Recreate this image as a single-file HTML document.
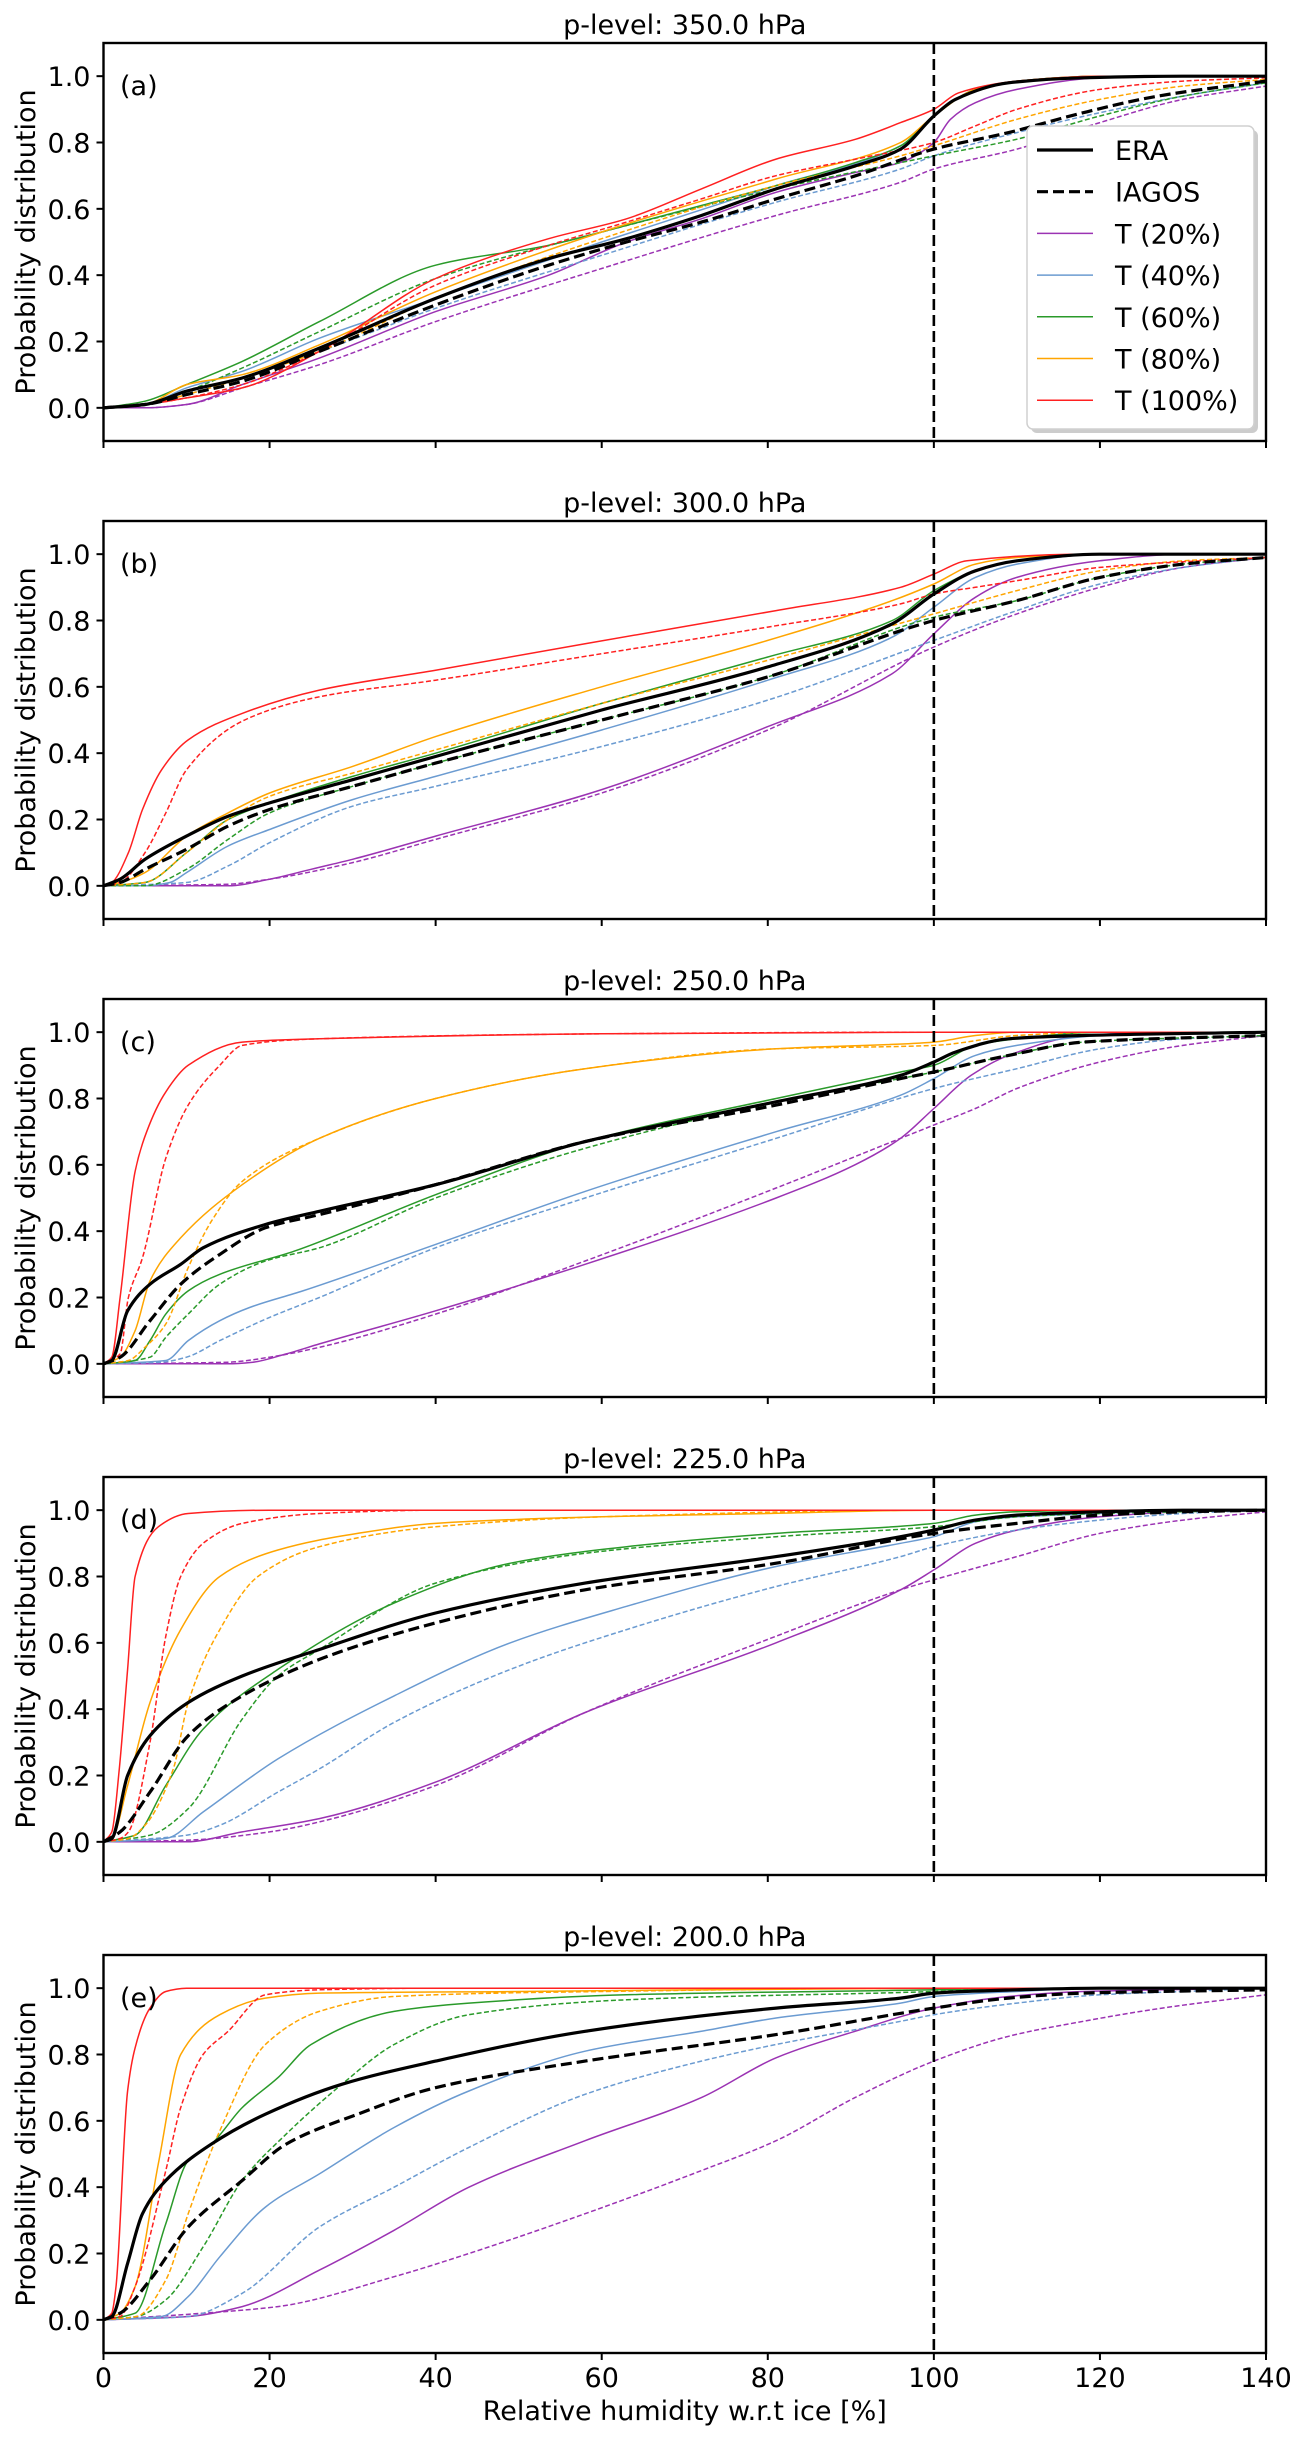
<!DOCTYPE html>
<html><head><meta charset="utf-8"><style>
html,body{margin:0;padding:0;background:#fff;}
svg{display:block;font-family:"DejaVu Sans","Liberation Sans",sans-serif;}
</style></head>
<body>
<svg id="fig" width="1305" height="2440" viewBox="0 0 1305 2440" xmlns="http://www.w3.org/2000/svg">
<rect width="1305" height="2440" fill="#fff"/>
</svg>
<script>
// ---------- data ----------
const panelTitles = ["p-level: 350.0 hPa","p-level: 300.0 hPa","p-level: 250.0 hPa","p-level: 225.0 hPa","p-level: 200.0 hPa"];
const panelLetters = ["(a)","(b)","(c)","(d)","(e)"];
const xTicks = [0,20,40,60,80,100,120,140];
const yTicks = [0.0,0.2,0.4,0.6,0.8,1.0];
const seriesNames = ["T20","T40","T60","T80","T100","ERA"];
const legendLabels = ["ERA","IAGOS","T (20%)","T (40%)","T (60%)","T (80%)","T (100%)"];

// panel (a) 350 hPa
const A_ERA = [[0,0],[5,0.01],[10,0.05],[16.7,0.09],[26,0.18],[40,0.33],[53.6,0.45],[63,0.51],[72,0.58],[81,0.66],[90.6,0.73],[96,0.78],[100,0.88],[102.6,0.93],[109,0.98],[118,0.995],[130,1]];
const A_IAG = [[0,0],[5,0.01],[10,0.04],[16.7,0.08],[26,0.17],[40,0.31],[53.6,0.43],[63,0.5],[72,0.56],[81,0.63],[90.6,0.7],[100,0.78],[109,0.83],[118,0.89],[127,0.94],[140,0.985]];
const A_T20 = [[0,0],[5,0],[10,0.01],[16.7,0.07],[26,0.15],[40,0.29],[53.6,0.4],[63,0.5],[72,0.57],[81,0.65],[90.6,0.71],[96,0.74],[100,0.8],[102,0.87],[105,0.92],[110,0.96],[120,0.995],[130,1]];
const A_T20d = [[0,0],[5,0],[10,0.01],[16.7,0.06],[26,0.13],[40,0.26],[60,0.42],[81,0.58],[96,0.68],[100,0.72],[110,0.78],[120,0.86],[130,0.93],[140,0.97]];
const A_T40 = [[0,0],[5,0.01],[10,0.06],[16.7,0.11],[26,0.21],[40,0.33],[60,0.5],[81,0.67],[96,0.79],[100,0.88],[105,0.96],[110,0.985],[120,1]];
const A_T40d = [[0,0],[5,0.01],[10,0.04],[26,0.17],[40,0.3],[60,0.46],[81,0.62],[96,0.72],[100,0.76],[110,0.83],[120,0.89],[130,0.94],[140,0.98]];
const A_T60 = [[0,0],[5,0.02],[10,0.07],[16.7,0.14],[26,0.26],[40,0.43],[53.6,0.49],[63,0.55],[72,0.61],[81,0.67],[90.6,0.74],[96,0.79],[100,0.88],[105,0.96],[110,0.985],[120,1]];
const A_T60d = [[0,0],[5,0.01],[10,0.05],[16.7,0.12],[26,0.23],[40,0.39],[60,0.53],[81,0.66],[100,0.76],[110,0.81],[120,0.88],[130,0.94],[140,0.98]];
const A_T80 = [[0,0],[5,0.01],[10,0.07],[16.7,0.1],[26,0.19],[40,0.35],[60,0.53],[81,0.69],[96,0.8],[100,0.88],[105,0.96],[110,0.985],[120,1]];
const A_T80d = [[0,0],[5,0.01],[10,0.04],[26,0.17],[40,0.33],[60,0.51],[81,0.67],[96,0.76],[100,0.79],[110,0.87],[120,0.93],[130,0.97],[140,0.99]];
const A_T100 = [[0,0],[5,0.01],[10,0.03],[16.7,0.06],[26,0.17],[40,0.39],[53.6,0.51],[63,0.57],[72,0.66],[81,0.75],[90.6,0.81],[96,0.86],[100,0.9],[103,0.95],[110,0.985],[120,1]];
const A_T100d = [[0,0],[5,0.01],[10,0.03],[16.7,0.07],[26,0.17],[40,0.37],[53.6,0.49],[63,0.56],[72,0.63],[81,0.7],[90.6,0.75],[100,0.8],[105,0.85],[110,0.9],[120,0.96],[130,0.985],[140,0.995]];

// panel (b) 300 hPa
const B_ERA = [[0,0],[2,0.02],[5,0.08],[10,0.15],[15,0.21],[20,0.25],[30,0.32],[40,0.39],[60,0.53],[80,0.66],[95,0.79],[100,0.88],[105,0.95],[110,0.98],[120,1]];
const B_IAG = [[0,0],[2,0.01],[5,0.05],[10,0.11],[15,0.18],[20,0.23],[30,0.3],[40,0.37],[60,0.5],[80,0.63],[100,0.8],[110,0.86],[120,0.93],[130,0.97],[140,0.99]];
const B_T20 = [[0,0],[15,0],[20,0.02],[25,0.05],[30,0.08],[40,0.15],[60,0.29],[80,0.48],[95,0.64],[100,0.76],[105,0.87],[110,0.93],[120,0.98],[130,1]];
const B_T20d = [[0,0],[15,0.005],[20,0.02],[30,0.07],[40,0.14],[60,0.28],[80,0.47],[100,0.72],[110,0.82],[120,0.9],[130,0.96],[140,0.99]];
const B_T40 = [[0,0],[5,0],[8,0.01],[10,0.04],[15,0.12],[20,0.17],[30,0.26],[40,0.33],[60,0.47],[80,0.62],[95,0.75],[100,0.84],[105,0.93],[110,0.97],[120,1]];
const B_T40d = [[0,0],[10,0.01],[15,0.06],[20,0.13],[30,0.24],[40,0.3],[60,0.42],[80,0.56],[100,0.74],[110,0.83],[120,0.91],[130,0.96],[140,0.99]];
const B_T60 = [[0,0],[5,0.01],[10,0.1],[15,0.2],[20,0.25],[30,0.33],[40,0.4],[60,0.55],[80,0.69],[95,0.8],[100,0.89],[105,0.95],[110,0.98],[120,1]];
const B_T60d = [[0,0],[5,0],[10,0.05],[15,0.14],[20,0.22],[30,0.3],[40,0.37],[60,0.5],[80,0.63],[100,0.81],[110,0.86],[120,0.93],[130,0.97],[140,0.99]];
const B_T80 = [[0,0],[2,0.01],[5,0.04],[10,0.15],[15,0.22],[20,0.28],[30,0.36],[40,0.45],[60,0.6],[80,0.74],[95,0.86],[100,0.91],[105,0.97],[110,0.99],[120,1]];
const B_T80d = [[0,0],[5,0.01],[10,0.1],[15,0.2],[20,0.27],[30,0.34],[40,0.41],[60,0.55],[80,0.68],[100,0.82],[110,0.89],[120,0.95],[130,0.98],[140,0.99]];
const B_T100 = [[0,0],[1,0.01],[3,0.1],[4.7,0.23],[7,0.35],[10.2,0.44],[16.7,0.52],[26,0.59],[40,0.65],[58,0.73],[81,0.83],[96,0.9],[100,0.94],[104,0.98],[118,1]];
const B_T100d = [[0,0],[2,0.01],[5,0.1],[7.5,0.22],[10,0.35],[17,0.5],[26,0.57],[40,0.62],[60,0.7],[80,0.78],[96,0.85],[100,0.88],[105,0.9],[110,0.92],[120,0.96],[140,0.99]];

// panel (c) 250 hPa
const C_ERA = [[0,0],[1,0.01],[2.9,0.16],[5.6,0.24],[9.3,0.3],[12,0.35],[19.5,0.42],[26,0.46],[40,0.54],[58,0.67],[81,0.79],[96,0.87],[100,0.91],[102.6,0.94],[109,0.98],[118,0.99],[140,1]];
const C_IAG = [[0,0],[2,0.02],[5.6,0.13],[9.3,0.24],[14,0.33],[19.5,0.41],[26,0.45],[40,0.54],[58,0.67],[81,0.78],[96,0.86],[100,0.88],[109,0.93],[118,0.97],[140,0.99]];
const C_T20 = [[0,0],[15,0],[18,0.005],[22,0.03],[26,0.06],[40,0.16],[58,0.3],[81,0.5],[90.5,0.6],[96,0.68],[100,0.77],[104.5,0.87],[109,0.93],[118,0.99],[130,1]];
const C_T20d = [[0,0],[15,0.005],[20,0.02],[26,0.05],[40,0.15],[58,0.31],[81,0.53],[96,0.68],[100,0.72],[105,0.77],[110,0.83],[120,0.91],[130,0.96],[140,0.99]];
const C_T40 = [[0,0],[7.5,0.01],[10.2,0.07],[14,0.13],[17.6,0.17],[24,0.22],[40,0.36],[58,0.52],[81,0.7],[96,0.81],[100,0.86],[105,0.93],[110,0.96],[120,0.99],[130,1]];
const C_T40d = [[0,0],[7,0.005],[10,0.02],[14,0.07],[20,0.14],[26,0.2],[40,0.35],[58,0.5],[81,0.68],[100,0.83],[110,0.89],[120,0.95],[130,0.98],[140,0.99]];
const C_T60 = [[0,0],[3.8,0.01],[5.6,0.07],[7.5,0.15],[10.2,0.22],[14,0.27],[23,0.34],[40,0.51],[58,0.67],[81,0.8],[96,0.88],[100,0.9],[105,0.96],[110,0.98],[120,1]];
const C_T60d = [[0,0],[5.6,0.02],[7.5,0.08],[10.2,0.15],[14,0.24],[19.5,0.31],[26,0.35],[40,0.5],[58,0.65],[81,0.79],[100,0.88],[109,0.93],[118,0.97],[140,0.99]];
const C_T80 = [[0,0],[2,0.02],[3.8,0.1],[5.6,0.25],[9.3,0.38],[16.7,0.54],[26,0.68],[40,0.8],[58,0.89],[81,0.95],[100,0.97],[105,0.99],[110,1]];
const C_T80d = [[0,0],[3,0.01],[5,0.05],[7.5,0.12],[10.2,0.29],[13,0.43],[16.7,0.55],[26,0.68],[40,0.8],[58,0.89],[81,0.95],[100,0.96],[110,0.99],[120,1]];
const C_T100 = [[0,0],[1,0.02],[2,0.2],[3.8,0.58],[5.2,0.7],[7.5,0.82],[10.2,0.9],[16.7,0.97],[26,0.98],[60,0.995],[100,1]];
const C_T100d = [[0,0],[2,0.03],[3,0.2],[4.7,0.32],[7.5,0.62],[10.2,0.78],[14,0.9],[16.7,0.96],[26,0.98],[60,0.995],[100,1]];

// panel (d) 225 hPa
const D_ERA = [[0,0],[1,0.01],[2.9,0.2],[5.6,0.32],[10.2,0.42],[16.7,0.5],[26,0.58],[40,0.69],[58,0.78],[81,0.86],[96,0.92],[100,0.94],[105,0.97],[110,0.985],[120,0.995],[130,1]];
const D_IAG = [[0,0],[2,0.03],[5.6,0.15],[10.2,0.32],[16.7,0.44],[26,0.55],[40,0.66],[58,0.76],[81,0.84],[100,0.93],[110,0.96],[120,0.985],[130,0.995],[140,1]];
const D_T20 = [[0,0],[10,0],[16.7,0.03],[26,0.07],[40,0.18],[58,0.39],[81,0.6],[96,0.76],[100,0.82],[105,0.9],[110,0.94],[120,0.98],[130,0.995],[140,1]];
const D_T20d = [[0,0],[10,0.005],[20,0.03],[26,0.06],[40,0.17],[58,0.39],[81,0.62],[96,0.76],[100,0.79],[110,0.86],[120,0.93],[130,0.97],[140,0.995]];
const D_T40 = [[0,0],[7.5,0.01],[12,0.09],[21,0.25],[35,0.44],[49,0.6],[63,0.71],[81,0.83],[96,0.9],[100,0.92],[105,0.965],[110,0.98],[120,0.99],[130,1]];
const D_T40d = [[0,0],[10,0.02],[14,0.05],[21,0.15],[26,0.22],[35,0.36],[49,0.52],[63,0.64],[81,0.77],[96,0.86],[100,0.89],[110,0.94],[120,0.97],[130,0.99],[140,1]];
const D_T60 = [[0,0],[3.8,0.02],[7.5,0.17],[12,0.34],[21,0.52],[35,0.72],[49,0.84],[63,0.89],[81,0.93],[100,0.96],[105,0.985],[110,0.995],[120,1]];
const D_T60d = [[0,0],[5.6,0.02],[10.2,0.1],[16.7,0.37],[21,0.5],[26,0.58],[40,0.78],[58,0.87],[81,0.92],[100,0.95],[110,0.98],[120,0.99],[140,1]];
const D_T80 = [[0,0],[1,0.01],[2.9,0.17],[5.6,0.42],[9.3,0.64],[14,0.8],[21,0.88],[30.6,0.93],[40,0.96],[60,0.98],[80,0.99],[100,1]];
const D_T80d = [[0,0],[3,0.01],[5,0.05],[8.4,0.22],[10.2,0.42],[14,0.64],[18.6,0.8],[26,0.89],[40,0.95],[60,0.98],[100,1]];
const D_T100 = [[0,0],[1,0.03],[1.9,0.22],[2.9,0.52],[3.8,0.8],[6.6,0.95],[10.2,0.99],[20,1]];
const D_T100d = [[0,0],[2,0.01],[3,0.03],[5.6,0.3],[7.5,0.62],[9.3,0.8],[12,0.9],[16.7,0.96],[26,0.99],[40,1]];

// panel (e) 200 hPa
const E_ERA = [[0,0],[1,0.01],[2.9,0.17],[4.7,0.32],[7.5,0.42],[13,0.53],[19.5,0.62],[28.7,0.71],[40,0.78],[58,0.87],[81,0.94],[96,0.97],[100,0.985],[110,0.995],[120,1]];
const E_IAG = [[0,0],[2,0.02],[5.6,0.12],[10.2,0.28],[16.7,0.42],[22,0.53],[30.6,0.62],[40,0.7],[58,0.78],[81,0.86],[100,0.94],[109,0.97],[118,0.985],[140,0.995]];
const E_T20 = [[0,0],[10.2,0.01],[16.7,0.04],[26,0.15],[35,0.27],[44,0.4],[58,0.54],[72,0.67],[81,0.79],[90.5,0.87],[100,0.94],[109,0.975],[118,0.99],[140,1]];
const E_T20d = [[0,0],[12,0.02],[21,0.04],[35,0.13],[44,0.2],[58,0.32],[72,0.45],[81,0.54],[90.5,0.67],[100,0.78],[109,0.855],[118,0.9],[127.5,0.94],[140,0.98]];
const E_T40 = [[0,0],[7,0.01],[10.2,0.07],[14,0.19],[19.5,0.34],[26,0.44],[35,0.58],[44,0.69],[58,0.81],[72,0.87],[81,0.91],[96,0.955],[100,0.975],[110,0.99],[120,1]];
const E_T40d = [[0,0],[10.2,0.01],[16.7,0.08],[26,0.28],[35,0.4],[44,0.52],[58,0.68],[72,0.78],[81,0.83],[96,0.9],[100,0.92],[110,0.955],[120,0.98],[130,0.99],[140,1]];
const E_T60 = [[0,0],[3.8,0.02],[7.5,0.29],[10.2,0.48],[13,0.53],[16.7,0.64],[21,0.73],[25,0.83],[35,0.93],[44,0.955],[63,0.98],[100,0.995],[110,1]];
const E_T60d = [[0,0],[4,0.01],[7.5,0.06],[12,0.22],[16.7,0.42],[22,0.56],[28.7,0.71],[35,0.83],[44,0.92],[63,0.965],[100,0.99],[110,1]];
const E_T80 = [[0,0],[2,0.02],[3.8,0.1],[6.6,0.47],[9.3,0.8],[14,0.92],[19.5,0.97],[26,0.985],[50,0.99],[100,1]];
const E_T80d = [[0,0],[4,0.01],[7.5,0.12],[10.2,0.32],[14,0.57],[19.5,0.83],[26,0.93],[35,0.975],[60,0.99],[100,1]];
const E_T100 = [[0,0],[1,0.02],[1.5,0.1],[2.9,0.69],[3.8,0.82],[5.6,0.94],[7.5,0.99],[10,1]];
const E_T100d = [[0,0],[2,0.01],[3.8,0.1],[7.5,0.45],[9.3,0.64],[12,0.8],[15,0.87],[19.5,0.98],[26,0.995],[40,1]];

const panelData = [
  [A_T20,A_T20d,A_T40,A_T40d,A_T60,A_T60d,A_T80,A_T80d,A_T100,A_T100d,A_ERA,A_IAG],
  [B_T20,B_T20d,B_T40,B_T40d,B_T60,B_T60d,B_T80,B_T80d,B_T100,B_T100d,B_ERA,B_IAG],
  [C_T20,C_T20d,C_T40,C_T40d,C_T60,C_T60d,C_T80,C_T80d,C_T100,C_T100d,C_ERA,C_IAG],
  [D_T20,D_T20d,D_T40,D_T40d,D_T60,D_T60d,D_T80,D_T80d,D_T100,D_T100d,D_ERA,D_IAG],
  [E_T20,E_T20d,E_T40,E_T40d,E_T60,E_T60d,E_T80,E_T80d,E_T100,E_T100d,E_ERA,E_IAG]
];

// ---------- drawing ----------
const NS = "http://www.w3.org/2000/svg";
const svg = document.getElementById("fig");
const colors = ["#9b33b3","#6b9bd1","#2a9a2a","#ffa500","#ff2020","#000000"];
const styleNames = ["t20","t40","t60","t80","t100","era"];
const AX_L = 103.5, AX_R = 1266, PH = 398;
const tops = [43,521,999,1477,1955];
const X_MIN = 0, X_MAX = 140, Y_MIN = -0.1, Y_MAX = 1.1;
function xs(v){ return AX_L + (v - X_MIN) / (X_MAX - X_MIN) * (AX_R - AX_L); }
function ys(v, top){ return top + (Y_MAX - v) / (Y_MAX - Y_MIN) * PH; }
function mk(tag, attrs, parent){
  const e = document.createElementNS(NS, tag);
  for (const k in attrs) e.setAttribute(k, attrs[k]);
  (parent || svg).appendChild(e);
  return e;
}
function monoPath(P){
  const n = P.length;
  if (n < 2) return "";
  const dx = [], dy = [], m = [];
  for (let i = 0; i < n - 1; i++){ dx.push(P[i+1][0]-P[i][0]); dy.push(P[i+1][1]-P[i][1]); m.push(dx[i] ? dy[i]/dx[i] : 0); }
  const t = [m[0]];
  for (let i = 1; i < n - 1; i++){
    if (m[i-1]*m[i] <= 0) t.push(0);
    else { const w1 = 2*dx[i]+dx[i-1], w2 = dx[i]+2*dx[i-1]; t.push((w1+w2)/(w1/m[i-1]+w2/m[i])); }
  }
  t.push(m[n-2]);
  let d = "M" + P[0][0].toFixed(1) + "," + P[0][1].toFixed(1);
  for (let i = 0; i < n - 1; i++){
    const h = dx[i]/3;
    d += " C" + (P[i][0]+h).toFixed(1) + "," + (P[i][1]+t[i]*h).toFixed(1) + " " +
         (P[i+1][0]-h).toFixed(1) + "," + (P[i+1][1]-t[i+1]*h).toFixed(1) + " " +
         P[i+1][0].toFixed(1) + "," + P[i+1][1].toFixed(1);
  }
  return d;
}
const FONT = 27;

for (let p = 0; p < 5; p++) {
  const top = tops[p], bot = top + PH;
  const g = mk("g", {});
  
  

  const cp = mk("clipPath", {id: "clip" + p}, g);
  mk("rect", {x: AX_L, y: top, width: AX_R - AX_L, height: PH}, cp);

  const t = mk("text", {x: (AX_L + AX_R) / 2, y: top - 9, "text-anchor": "middle", "font-size": FONT}, g);
  t.textContent = panelTitles[p];
  
  

  const sg = mk("g", {"clip-path": "url(#clip" + p + ")"}, g);
  panelData[p].forEach((pts, i) => {
    const si = Math.floor(i / 2), dashed = i % 2 === 1, isRef = si === 5;
    const full = pts.slice();
    if (full[full.length-1][0] < X_MAX) full.push([X_MAX, full[full.length-1][1]]);
    const P = full.map(q => [xs(q[0]), ys(q[1], top)]);
    const path = mk("path", {d: monoPath(P), fill: "none", stroke: colors[si],
      "stroke-width": isRef ? 3.2 : 1.5, "stroke-linejoin": "round"}, sg);
    if (dashed) path.setAttribute("stroke-dasharray", isRef ? "11,5" : "5,2.5");
    
    
  });

  const vl = mk("line", {x1: xs(100), x2: xs(100), y1: top, y2: bot, stroke: "#000", "stroke-width": 2.6, "stroke-dasharray": "11,5"}, g);
  
  

  const fr = mk("rect", {x: AX_L, y: top, width: AX_R - AX_L, height: PH, fill: "none", stroke: "#000", "stroke-width": 2.4}, g);
  
  

  yTicks.forEach(v => {
    const y = ys(v, top);
    mk("line", {x1: AX_L - 7, x2: AX_L, y1: y, y2: y, stroke: "#000", "stroke-width": 2}, g);
    const tl = mk("text", {x: AX_L - 13, y: y + 10, "text-anchor": "end", "font-size": FONT}, g);
    tl.textContent = v.toFixed(1);
    
    
  });
  xTicks.forEach(v => {
    const x = xs(v);
    mk("line", {x1: x, x2: x, y1: bot, y2: bot + 7, stroke: "#000", "stroke-width": 2}, g);
    if (p === 4) {
      const tl = mk("text", {x: x, y: 2387, "text-anchor": "middle", "font-size": FONT}, g);
      tl.textContent = String(v);
      
      
    }
  });

  const yl = mk("text", {x: 0, y: 0, "text-anchor": "middle", "font-size": FONT,
    transform: "translate(35," + (top + PH / 2) + ") rotate(-90)"}, g);
  yl.textContent = "Probability distribution";
  
  

  const pl = mk("text", {x: 120, y: top + 52, "font-size": FONT}, g);
  pl.textContent = panelLetters[p];
  
  
}

const xl = mk("text", {x: (AX_L + AX_R) / 2, y: 2420, "text-anchor": "middle", "font-size": FONT});
xl.textContent = "Relative humidity w.r.t ice [%]";



const lg = mk("g", {});


mk("rect", {x: 1031, y: 130, width: 227, height: 303, rx: 6, fill: "#999", opacity: 0.5}, lg);
mk("rect", {x: 1027, y: 126, width: 227, height: 303, rx: 6, fill: "#fff", stroke: "#d0d0d0", "stroke-width": 1.5}, lg);
const legColors = ["#000","#000"].concat(colors.slice(0,5));
legendLabels.forEach((lab, i) => {
  const y = 150 + i * 41.7;
  const ln = mk("line", {x1: 1037, x2: 1093, y1: y, y2: y, stroke: legColors[i], "stroke-width": i < 2 ? 3.2 : 1.5}, lg);
  if (i === 1) ln.setAttribute("stroke-dasharray", "11,5");
  const tx = mk("text", {x: 1115, y: y + 10, "font-size": FONT}, lg);
  tx.textContent = lab;
  
  
});
</script>
</body></html>
